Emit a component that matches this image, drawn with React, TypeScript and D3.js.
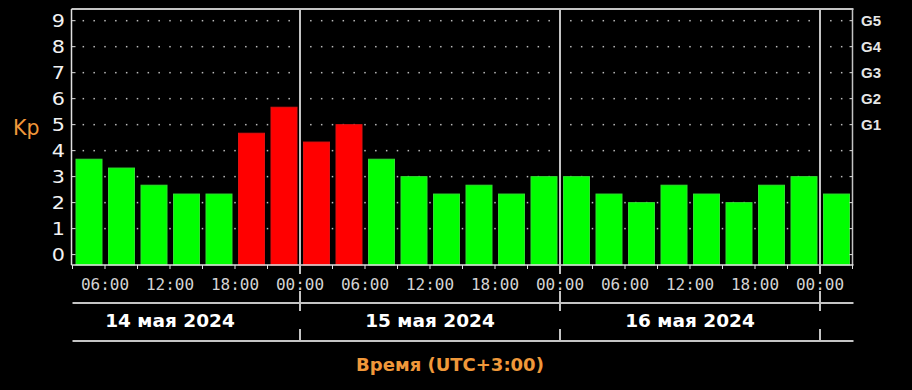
import React from "react";
import * as d3 from "d3";

const W = 912;
const H = 390;

// Kp values, 3-hour intervals starting 14 May 2024 03:00 (UTC+3)
const kpValues = [
  3.67, 3.33, 2.67, 2.33, 2.33, 4.67, 5.67,
  4.33, 5.0, 3.67, 3.0, 2.33, 2.67, 2.33, 3.0,
  3.0, 2.33, 2.0, 2.67, 2.33, 2.0, 2.67, 3.0,
  2.33,
];
const yTicks = [0, 1, 2, 3, 4, 5, 6, 7, 8, 9];
const gLabels = ["G1", "G2", "G3", "G4", "G5"];
const gLevels = [5, 6, 7, 8, 9];
const dayLabels = ["14 мая 2024", "15 мая 2024", "16 мая 2024"];
const dayNoon = [Date.UTC(2024, 4, 14, 12), Date.UTC(2024, 4, 15, 12), Date.UTC(2024, 4, 16, 12)];
const dayBoundaries = [Date.UTC(2024, 4, 15, 0), Date.UTC(2024, 4, 16, 0), Date.UTC(2024, 4, 17, 0)];
const startTime = Date.UTC(2024, 4, 14, 3);
const endTime = Date.UTC(2024, 4, 17, 3);
const HOUR = 3600 * 1000;

export default function App() {
  const left = 72.5;
  const right = 852.5;
  const top = 9;
  const bottom = 265;

  const x = d3.scaleTime().domain([new Date(startTime), new Date(endTime)]).range([left, right]);
  const y = d3.scaleLinear().domain([-0.4, 9.45]).range([bottom, top]);

  const fmt = d3.utcFormat("%H:%M");
  const labelTicks = d3.utcHour.every(6)!.range(new Date(startTime), new Date(endTime));
  const minorTicks = d3.utcHour.every(3)!.range(new Date(startTime), new Date(endTime + 1));
  const dotTimes = d3.utcMinute.every(90)!.range(new Date(startTime + 1), new Date(endTime));

  const grey = "#c4c4c4";
  const orange = "#f0983a";

  return (
    <svg width={W} height={H} style={{ position: "absolute", left: 0, top: 0, background: "#000" }}>
      <rect x={0} y={0} width={W} height={H} fill="#000" />
      {/* dotted grid */}
      {yTicks.filter((v) => v > 0).map((v) =>
        dotTimes.map((t, i) => (
          <rect key={`d${v}-${i}`} x={x(t) - 0.75} y={y(v) - 0.75} width={1.5} height={1.5} fill="#bbbbbb" />
        ))
      )}
      {/* bars */}
      {kpValues.map((v, i) => {
        const t0 = new Date(startTime + i * 3 * HOUR);
        const t1 = new Date(startTime + (i + 1) * 3 * HOUR);
        const x0 = x(t0) + 3.5;
        const w = x(t1) - x(t0) - 6.5;
        const red = v > 4;
        return (
          <rect
            key={`b${i}`}
            x={x0}
            y={y(v)}
            width={w}
            height={y(-0.4) - y(v)}
            fill={red ? "#ff0000" : "#00ff00"}
            stroke={red ? "#e01010" : "#30e030"}
            strokeWidth={1}
          />
        );
      })}
      {/* frame */}
      <line x1={left - 1} x2={right + 1} y1={top} y2={top} stroke={grey} strokeWidth={2} />
      <line x1={left - 1} x2={left - 1} y1={top} y2={bottom} stroke="#e0e0e0" strokeWidth={1.5} />
      <line x1={right} x2={right} y1={top} y2={bottom} stroke={grey} strokeWidth={1.5} />
      <line x1={left - 1} x2={right + 1} y1={bottom} y2={bottom} stroke="#e0e0e0" strokeWidth={1.5} />
      {/* y ticks */}
      {yTicks.map((v) => (
        <g key={`yt${v}`}>
          <line x1={left - 1} x2={left + 3} y1={y(v)} y2={y(v)} stroke="#e0e0e0" strokeWidth={1} />
          <line x1={right - 3} x2={right} y1={y(v)} y2={y(v)} stroke="#e0e0e0" strokeWidth={1} />
          <text
            transform={`translate(65,${y(v)}) scale(1.12,1)`}
            dy="0.36em"
            textAnchor="end"
            fontFamily="DejaVu Sans"
            fontSize={18.5}
            fill="#f2f2f2"
          >
            {v}
          </text>
        </g>
      ))}
      {/* G labels */}
      {gLabels.map((g, i) => (
        <text
          key={g}
          x={861}
          y={y(gLevels[i])}
          dy="0.36em"
          fontFamily="Liberation Sans"
          fontWeight="bold"
          fontSize={15}
          fill="#e6e6e6"
        >
          {g}
        </text>
      ))}
      {/* Kp label */}
      <text x={13} y={135} fontFamily="DejaVu Sans" fontSize={20.5} fill={orange}>
        Kp
      </text>
      {/* x minor ticks */}
      {minorTicks.map((t, i) => (
        <line key={`mt${i}`} x1={x(t)} x2={x(t)} y1={bottom} y2={bottom + 4} stroke="#e0e0e0" strokeWidth={1} />
      ))}
      {/* day lines */}
      {dayBoundaries.map((t, i) => (
        <g key={`dl${i}`}>
          <line x1={x(new Date(t))} x2={x(new Date(t))} y1={top} y2={311} stroke={grey} strokeWidth={2} />
          <line x1={x(new Date(t))} x2={x(new Date(t))} y1={329} y2={341} stroke={grey} strokeWidth={2} />
        </g>
      ))}
      {/* time labels */}
      {labelTicks.map((t, i) => (
        <g key={`xl${i}`}>
          {fmt(t) === "00:00" && (
            <rect x={x(t) - 3} y={274} width={6} height={17} fill="#000" />
          )}
          <text
            x={x(t)}
            y={290}
            textAnchor="middle"
            fontFamily="DejaVu Sans Mono"
            fontSize={16}
            fill="#d4d4d4"
          >
            {fmt(t)}
          </text>
        </g>
      ))}
      {/* horizontal separators */}
      <line x1={left} x2={right + 1} y1={303} y2={303} stroke={grey} strokeWidth={2} />
      <line x1={left} x2={right + 1} y1={341} y2={341} stroke={grey} strokeWidth={2} />
      {/* day labels */}
      {dayLabels.map((d, i) => (
        <text
          key={d}
          x={x(new Date(dayNoon[i]))}
          y={326.5}
          textAnchor="middle"
          fontFamily="DejaVu Sans"
          fontWeight="bold"
          fontSize={18.5}
          fill="#ffffff"
        >
          {d}
        </text>
      ))}
      {/* x axis title */}
      <text
        x={450}
        y={371}
        textAnchor="middle"
        fontFamily="DejaVu Sans"
        fontWeight="bold"
        fontSize={18}
        fill={orange}
      >
        Время (UTC+3:00)
      </text>
    </svg>
  );
}
